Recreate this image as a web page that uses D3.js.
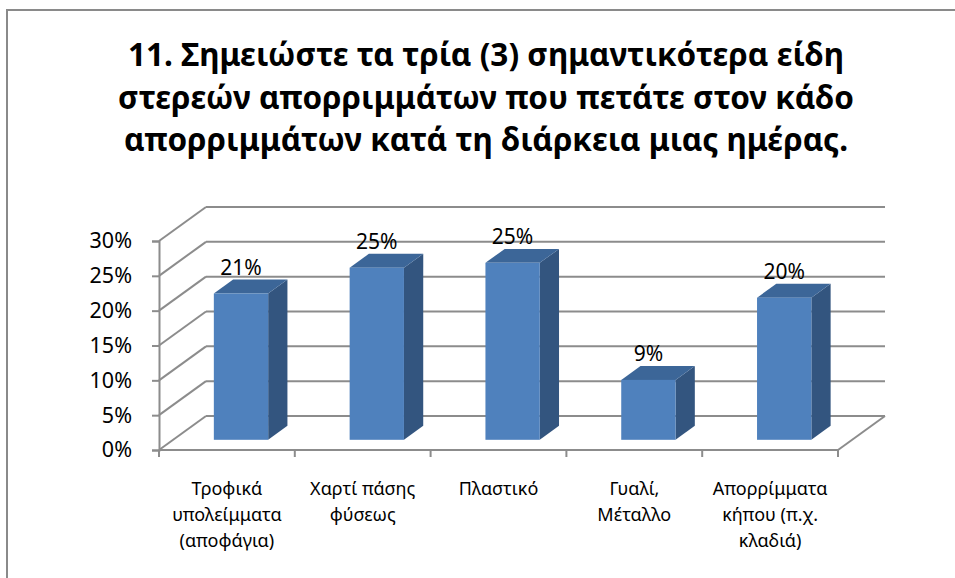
<!DOCTYPE html>
<html>
<head>
<meta charset="utf-8">
<script src="https://cdn.jsdelivr.net/npm/d3@7"></script>
<style>
  html, body { margin: 0; padding: 0; background: #fff; }
  svg { display: block; }
</style>
</head>
<body>
<svg id="chart" width="955" height="578"></svg>
<script>
// Waste categories (each label split into its display lines)
const categories = [
  "Τροφικά υπολείμματα (αποφάγια)",
  "Χαρτί πάσης φύσεως",
  "Πλαστικό",
  "Γυαλί, Μέταλλο",
  "Απορρίμματα κήπου (π.χ. κλαδιά)"
];
const categoryLines = [
  ["Τροφικά", "υπολείμματα", "(αποφάγια)"],
  ["Χαρτί πάσης", "φύσεως"],
  ["Πλαστικό"],
  ["Γυαλί,", "Μέταλλο"],
  ["Απορρίμματα", "κήπου (π.χ.", "κλαδιά)"]
];
// Share of answers per category
const values = [0.21, 0.247, 0.254, 0.086, 0.204];
// Value axis ticks
const yTicks = [0, 0.05, 0.10, 0.15, 0.20, 0.25, 0.30];
const titleLines = [
  "11. Σημειώστε τα τρία (3) σημαντικότερα είδη",
  "στερεών απορριμμάτων που πετάτε στον κάδο",
  "απορριμμάτων κατά τη διάρκεια μιας ημέρας."
];

const svg = d3.select("#chart");
const FONT = "'Noto Sans', 'Open Sans', sans-serif";
const GRID = "#8c8c8c";

// Chart frame
svg.append("rect")
  .attr("x", 7).attr("y", 10).attr("width", 1000).attr("height", 1000)
  .attr("fill", "#fff").attr("stroke", "#8a8a8a").attr("stroke-width", 2);

// Title
svg.append("g").selectAll("text").data(titleLines).join("text")
  .attr("x", 486).attr("y", (d, i) => 66 + i * 42.5)
  .attr("text-anchor", "middle")
  .attr("font-family", FONT).attr("font-weight", "bold").attr("font-size", 31.5)
  .attr("fill", "#000")
  .text(d => d);

// Scales on the front plane, plus a depth offset for the 3D box
const x0 = 159, x1 = 838;
const y = d3.scaleLinear().domain([0, 0.30]).range([450, 241]);
const xb = d3.scaleBand().domain(categories).range([x0, x1])
  .paddingInner(0.6).paddingOuter(0.3);
const xStep = xb.step();
const DX = 47, DY = -34;          // full depth of the plot box
const D0 = 0.3, D1 = 0.71;        // depth span occupied by the columns

const g = svg.append("g");

// Back wall gridlines
g.append("g").selectAll("line").data(yTicks).join("line")
  .attr("x1", x0 + DX).attr("x2", x1 + DX)
  .attr("y1", d => y(d) + DY).attr("y2", d => y(d) + DY)
  .attr("stroke", GRID).attr("stroke-width", 2);

// Side wall gridlines
g.append("g").selectAll("line").data(yTicks).join("line")
  .attr("x1", x0).attr("x2", x0 + DX)
  .attr("y1", d => y(d)).attr("y2", d => y(d) + DY)
  .attr("stroke", GRID).attr("stroke-width", 2);

// Floor right edge
g.append("line")
  .attr("x1", x1).attr("y1", y(0)).attr("x2", x1 + DX).attr("y2", y(0) + DY)
  .attr("stroke", GRID).attr("stroke-width", 2);

// Value axis
const yAxis = g.append("g").attr("transform", `translate(${x0},0)`)
  .call(d3.axisLeft(y).tickValues(yTicks).tickFormat(d3.format(".0%"))
    .tickSize(7).tickPadding(20));
yAxis.select(".domain").attr("stroke", GRID).attr("stroke-width", 2);
yAxis.selectAll(".tick line").attr("stroke", GRID).attr("stroke-width", 2);
yAxis.selectAll(".tick text")
  .attr("font-family", FONT).attr("font-size", 21.5).attr("fill", "#000");

// Category axis along the front floor edge
g.append("line")
  .attr("x1", x0).attr("x2", x1).attr("y1", y(0)).attr("y2", y(0))
  .attr("stroke", GRID).attr("stroke-width", 2);
const boundaries = d3.range(categories.length + 1).map(i => x0 + i * xStep);
g.append("g").selectAll("line").data(boundaries).join("line")
  .attr("x1", d => d).attr("x2", d => d)
  .attr("y1", y(0)).attr("y2", y(0) + 7)
  .attr("stroke", GRID).attr("stroke-width", 2);

// Category labels
const catG = g.append("g").selectAll("text").data(categories).join("text")
  .attr("text-anchor", "middle")
  .attr("font-family", FONT).attr("font-size", 18).attr("fill", "#000")
  .attr("x", d => xb(d) + xb.bandwidth() / 2);
catG.each(function(d, i) {
  d3.select(this).selectAll("tspan").data(categoryLines[i]).join("tspan")
    .attr("x", xb(d) + xb.bandwidth() / 2)
    .attr("y", (t, j) => 495 + j * 26)
    .text(t => t);
});

// 3D columns
const bars = g.append("g").selectAll("g").data(values).join("g");
const fmt = d3.format(".0%");
bars.each(function(v, i) {
  const sel = d3.select(this);
  const xl = xb(categories[i]), xr = xl + xb.bandwidth();
  const yt = y(v), yb = y(0);
  const P = (x, yy, d) => [x + d * DX, yy + d * DY];
  const poly = pts => pts.map(p => p.join(",")).join(" ");
  // side face
  sel.append("polygon")
    .attr("points", poly([P(xr, yt, D0), P(xr, yt, D1), P(xr, yb, D1), P(xr, yb, D0)]))
    .attr("fill", "#33557f");
  // top face
  sel.append("polygon")
    .attr("points", poly([P(xl, yt, D0), P(xl, yt, D1), P(xr, yt, D1), P(xr, yt, D0)]))
    .attr("fill", "#3c6698");
  // front face
  const f0 = P(xl, yt, D0), f1 = P(xr, yb, D0);
  sel.append("rect")
    .attr("x", f0[0]).attr("y", f0[1])
    .attr("width", f1[0] - f0[0]).attr("height", f1[1] - f0[1])
    .attr("fill", "#4f81bd");
  // value label
  const topBack = P(xl, yt, D1);
  sel.append("text")
    .attr("x", (f0[0] + f1[0]) / 2).attr("y", topBack[1] - 5)
    .attr("text-anchor", "middle")
    .attr("font-family", FONT).attr("font-size", 21).attr("fill", "#000")
    .text(fmt(v));
});
</script>
</body>
</html>
